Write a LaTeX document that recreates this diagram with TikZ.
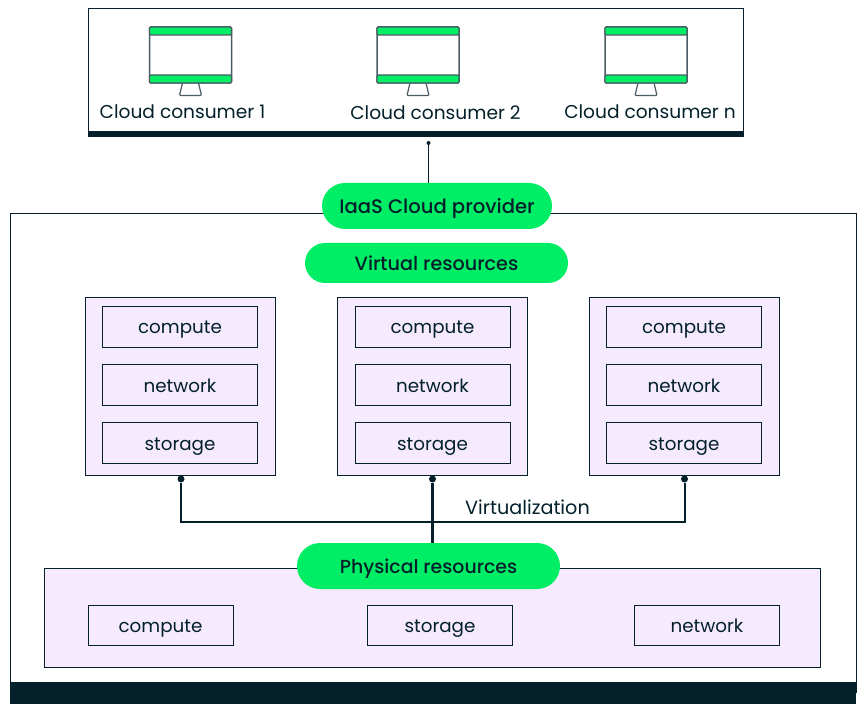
\documentclass[tikz,border=0pt]{standalone}
\usepackage{fontspec}
\setmainfont{Poppins}
\newfontfamily\pillfont{Poppins Medium}
\usepackage{xcolor}
\usetikzlibrary{arrows.meta, positioning, calc}
\definecolor{inkdark}{HTML}{03202B}
\definecolor{pillgreen}{HTML}{00EE66}
\definecolor{lavender}{HTML}{F6EBFE}
\definecolor{screengrey}{HTML}{4A5D65}

\begin{document}
\begin{tikzpicture}[
    x=1pt, y=-1pt,
    font=\fontsize{18.6}{22}\selectfont,
    text=inkdark,
    frame/.style={draw=inkdark, line width=1pt, fill=white, minimum width=#1, anchor=north west, inner sep=0pt},
    panel/.style={draw=inkdark, line width=1pt, fill=lavender, inner sep=0pt, minimum width=190pt, minimum height=177.5pt},
    res/.style={draw=inkdark, line width=1pt, fill=lavender, inner sep=0pt, minimum width=155pt, minimum height=41pt,
        text height=17pt, text depth=3pt, font=\fontsize{18.3}{22}\selectfont},
    phys/.style={res, minimum width=145pt, minimum height=40pt},
    pill/.style={fill=pillgreen, inner sep=0pt, text height=18pt, text depth=3pt, font=\pillfont\fontsize{#1}{22}\selectfont},
    pill/.default=19.2,
    bar/.style={fill=inkdark, inner sep=0pt, minimum height=#1},
    link/.style={draw=inkdark, line width=2pt},
    tipdot/.style={circle, fill=inkdark, inner sep=0pt, minimum size=#1},
    label/.style={inner sep=0pt}
]
    \useasboundingbox[fill=white] (0,0) rectangle (868,711);

    % Consumers frame
    \node[frame=655pt, minimum height=128pt] (consumers) at (88,8) {};
    \node[bar=5pt, minimum width=656pt, anchor=north west] (consumersbar) at (88,131) {};

    % Monitors
    \foreach \name/\x in {mona/190.5, monb/418, monc/646} {
        \draw[draw=screengrey, line width=1.2pt, fill=white, rounded corners=1pt]
            (\x-8,83) -- (\x-11,95.5) -- (\x+11,95.5) -- (\x+8,83);
        \node[draw=screengrey, line width=1.5pt, fill=white, rounded corners=1.5pt, inner sep=0pt,
            minimum width=82pt, minimum height=56pt] (\name) at (\x,55) {};
        \draw[draw=screengrey, line width=1.2pt, fill=pillgreen, rounded corners=1pt] (\x-41,27) rectangle (\x+41,35);
        \draw[draw=screengrey, line width=1.2pt, fill=pillgreen, rounded corners=1pt] (\x-41,75) rectangle (\x+41,83);
    }

    % Consumer labels
    \node[label] (labela) at (182.5,111.5) {Cloud consumer 1};
    \node[label] (labelb) at (435.5,113) {Cloud consumer 2};
    \node[label] (labelc) at (650,111.5) {Cloud consumer n};

    % Provider frame
    \node[frame=845.5pt, minimum height=478pt] (provider) at (10,213.5) {};
    \node[bar=22pt, minimum width=846pt, anchor=north west] (providerbar) at (10,682) {};

    % Pills
    \node[pill=19.6, minimum width=230pt, minimum height=46pt, rounded corners=23pt] (iaas) at (437,206) {IaaS Cloud provider};
    \node[pill, minimum width=263pt, minimum height=40pt, rounded corners=20pt] (virtual) at (436.5,263) {Virtual resources};

    % Top link
    \node[tipdot=4pt] (topdot) at (428.5,143) {};
    \draw[draw=inkdark, line width=1.2pt] (topdot) -- (topdot |- iaas.north);

    % Virtual panels
    \foreach \name/\x/\y in {pa/180.5/180, pb/432/432.5, pc/684/684} {
        \node[panel] (\name) at (\x,386.3) {};
        \node[res] (\name c) at (\y,327) {compute};
        \node[res] (\name n) at (\y,385) {network};
        \node[res] (\name s) at (\y,443) {storage};
    }

    % Physical panel
    \node[draw=inkdark, line width=1pt, fill=lavender, inner sep=0pt, minimum width=776pt, minimum height=99pt] (physpanel) at (432,617.5) {};
    \node[phys] (pcompute) at (160.5,625.5) {compute};
    \node[phys] (pstorage) at (440,625.5) {storage};
    \node[phys] (pnetwork) at (707,625.5) {network};

    \node[pill=18.9, minimum width=263pt, minimum height=46pt, rounded corners=23pt] (physical) at (428.5,566) {Physical resources};

    % Virtualization links
    \node[tipdot=7pt] (dota) at (181,479) {};
    \node[tipdot=7pt] (dotb) at (432.5,479) {};
    \node[tipdot=7pt] (dotc) at (684.5,479) {};
    \coordinate (busmid) at (432.5,522);
    \draw[link] (dota) |- (busmid);
    \draw[link] (dotc) |- (busmid);
    \draw[link, line width=2.5pt] (dotb) -- (dotb |- physical.north);
    \node[label, font=\fontsize{19.2}{22}\selectfont] (virtlabel) at (527.5,507) {Virtualization};

\end{tikzpicture}
\end{document}
